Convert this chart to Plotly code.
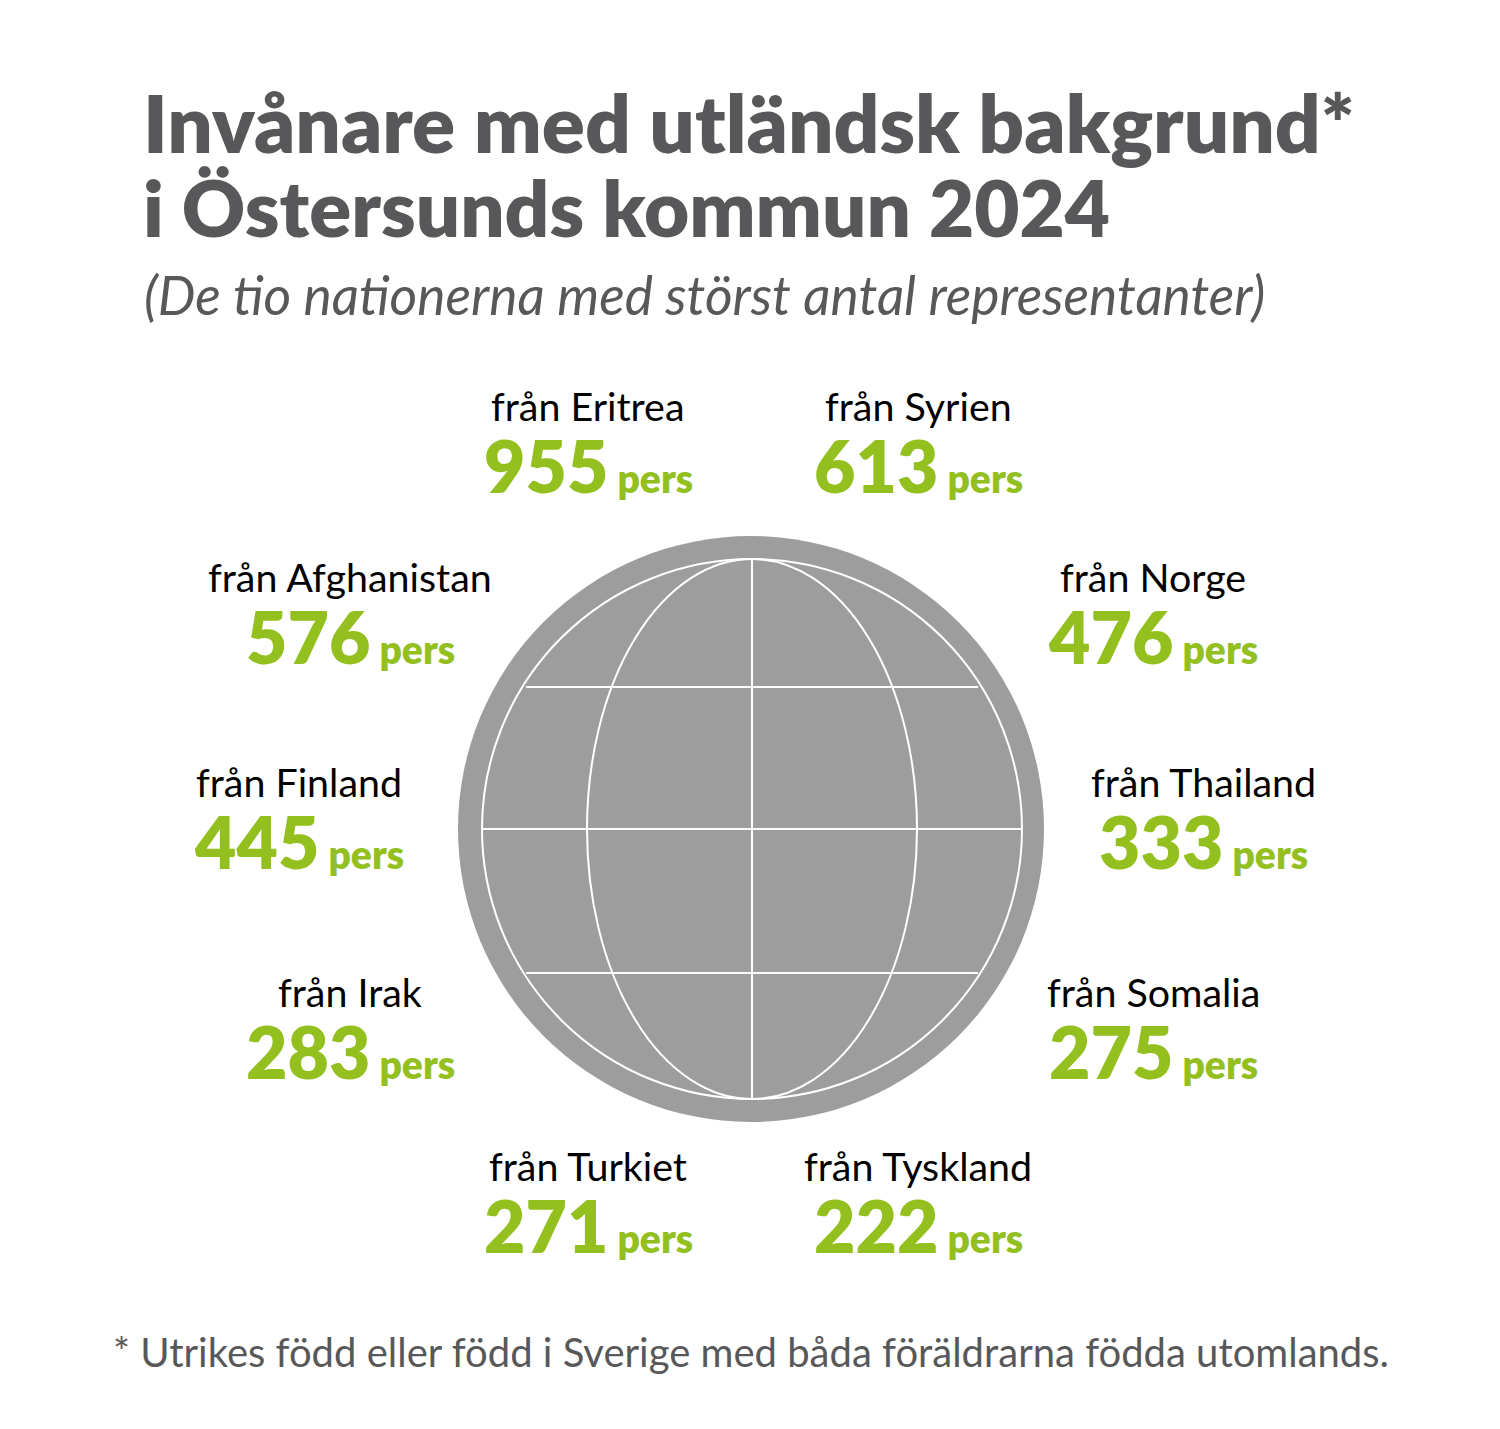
import plotly.graph_objects as go

# data
countries = ["Eritrea", "Syrien", "Afghanistan", "Norge", "Finland", "Thailand", "Irak", "Somalia", "Turkiet", "Tyskland"]
values = [955, 613, 576, 476, 445, 333, 283, 275, 271, 222]

# label centres in pixels, same order as countries
label_x = [588, 918, 350, 1153, 299, 1203, 350, 1153, 588, 918]
label_y = [405, 405, 576, 576, 781, 781, 991, 991, 1165, 1165]

GREEN = "#93c01f"
GREY_TEXT = "#58585a"
GLOBE = "#9d9d9d"
FONT = "Lato"

fig = go.Figure()

# globe, the grid sits 1px right of the disc like in the original
cx, cy = 751, 829
gx = cx + 1
shapes = [
    dict(type="circle", x0=cx - 293, x1=cx + 293, y0=cy - 293, y1=cy + 293, fillcolor=GLOBE, line=dict(width=0)),
    dict(type="circle", x0=gx - 270, x1=gx + 270, y0=cy - 270, y1=cy + 270, line=dict(color="white", width=2)),
    dict(type="circle", x0=gx - 165, x1=gx + 165, y0=cy - 270, y1=cy + 270, line=dict(color="white", width=2)),
    dict(type="line", x0=gx, x1=gx, y0=cy - 270, y1=cy + 270, line=dict(color="white", width=2)),
    dict(type="line", x0=gx - 270, x1=gx + 270, y0=cy, y1=cy, line=dict(color="white", width=2)),
    dict(type="line", x0=cx - 225, x1=cx + 227, y0=687, y1=687, line=dict(color="white", width=2)),
    dict(type="line", x0=cx - 225, x1=cx + 227, y0=973, y1=973, line=dict(color="white", width=2)),
]

annotations = []

def add_text(x, y, text, size, color, anchor="left", weight="normal", style="normal"):
    annotations.append(dict(x=x, y=y, text=text, xref="x", yref="y", showarrow=False, xanchor=anchor, yanchor="middle",
                            font=dict(family=FONT, size=size, color=color, weight=weight, style=style)))

add_text(141, 122, "Invånare med utländsk bakgrund*", 80, GREY_TEXT, weight=800)
add_text(141, 207, "i Östersunds kommun 2024", 78, GREY_TEXT, weight=800)
add_text(142, 294, "(De tio nationerna med störst antal representanter)", 53.3, GREY_TEXT, style="italic")
add_text(111, 1352, "* Utrikes född eller född i Sverige med båda föräldrarna födda utomlands.", 40, GREY_TEXT)

for name, val, x, y in zip(countries, values, label_x, label_y):
    add_text(x, y, "från " + name, 39.4, "black", "center")
    add_text(x, y + 60, f"{val}<span style='font-size:39px'> pers</span>", 71.5, GREEN, "center", weight=800)

fig.update_layout(
    width=1500, height=1429,
    margin=dict(l=0, r=0, t=0, b=0),
    paper_bgcolor="white", plot_bgcolor="white",
    showlegend=False,
    shapes=shapes, annotations=annotations,
    xaxis=dict(range=[0, 1500], visible=False, fixedrange=True),
    yaxis=dict(range=[1429, 0], visible=False, fixedrange=True),
)

# page body has a default margin, drop it so pixels line up
fig.write_html("out.html", post_script="document.body.style.margin='0';", config=dict(displayModeBar=False))
